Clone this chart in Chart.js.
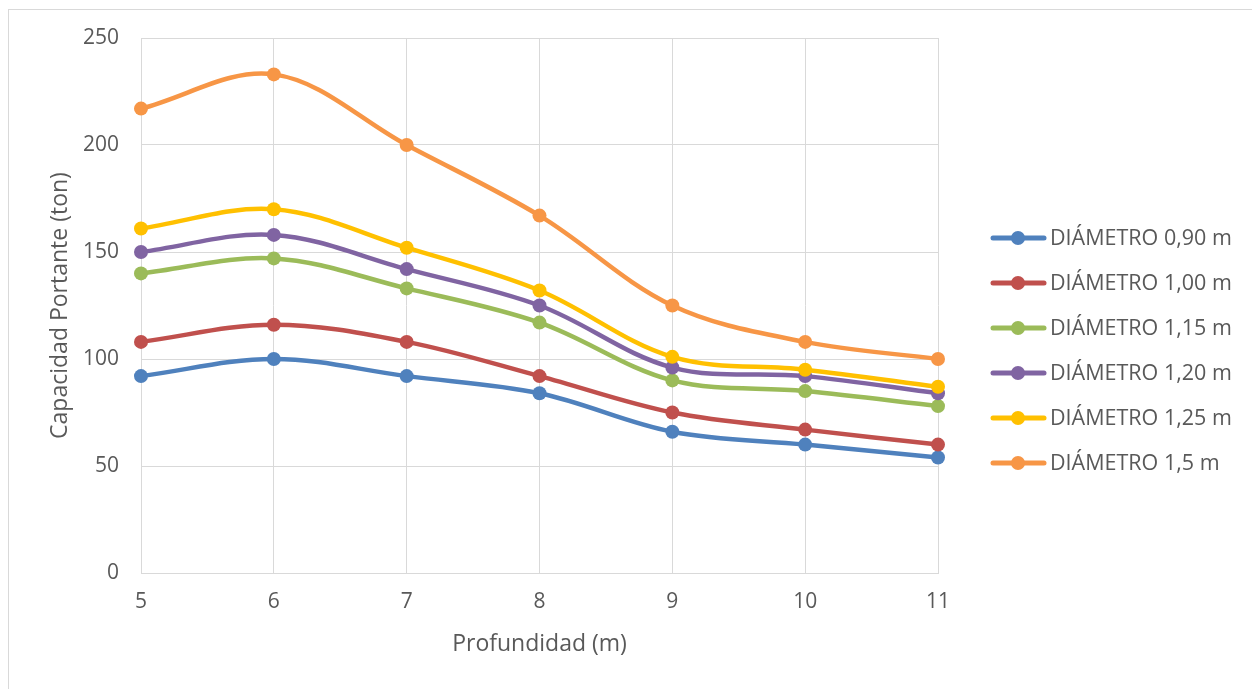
<!DOCTYPE html>
<html>
<head>
<meta charset="utf-8">
<script src="https://cdn.jsdelivr.net/npm/chart.js@4.4.1/dist/chart.umd.min.js"></script>
<style>
  html, body { margin: 0; padding: 0; background: #fff; overflow: hidden; }
  #frame { position: absolute; left: 8px; top: 9px; width: 1400px; height: 900px; border: 1px solid #d9d9d9; }
  #chart { position: absolute; left: 0; top: 0; }
</style>
</head>
<body>
<div id="frame"></div>
<canvas id="chart" width="1252" height="689"></canvas>
<script>
// --- datos ---
const profundidad = [5, 6, 7, 8, 9, 10, 11];
const seriesNames = ['DIÁMETRO 0,90 m', 'DIÁMETRO 1,00 m', 'DIÁMETRO 1,15 m', 'DIÁMETRO 1,20 m', 'DIÁMETRO 1,25 m', 'DIÁMETRO 1,5 m'];
const d090 = [92, 100, 92, 84, 66, 60, 54];
const d100 = [108, 116, 108, 92, 75, 67, 60];
const d115 = [140, 147, 133, 117, 90, 85, 78];
const d120 = [150, 158, 142, 125, 96, 92, 84];
const d125 = [161, 170, 152, 132, 101, 95, 87];
const d150 = [217, 233, 200, 167, 125, 108, 100];
const yTicks = [0, 50, 100, 150, 200, 250];
const colors = ['#4F81BD', '#C0504D', '#9BBB59', '#8064A2', '#FFC000', '#F79646'];

const allSeries = [d090, d100, d115, d120, d125, d150];
const FONT = "'Open Sans', sans-serif";
const TXT = '#595959';
const GRID = '#d9d9d9';

const datasets = allSeries.map((vals, i) => ({
  label: seriesNames[i],
  data: vals.map((v, j) => ({ x: profundidad[j], y: v })),
  borderColor: colors[i],
  backgroundColor: colors[i],
  pointBackgroundColor: colors[i],
  pointBorderWidth: 0,
  pointRadius: 7,
  borderWidth: 4.5,
  tension: 0.35,
  clip: false,
  order: allSeries.length - i
}));

// leyenda a la derecha (línea + marcador)
const sideLegend = {
  id: 'sideLegend',
  afterDraw(chart) {
    const ctx = chart.ctx;
    const y0 = 238, step = 45;
    ctx.save();
    seriesNames.forEach((name, i) => {
      const y = y0 + i * step;
      ctx.strokeStyle = colors[i];
      ctx.lineWidth = 5;
      ctx.lineCap = 'round';
      ctx.beginPath();
      ctx.moveTo(993, y);
      ctx.lineTo(1044, y);
      ctx.stroke();
      ctx.fillStyle = colors[i];
      ctx.beginPath();
      ctx.arc(1018, y, 7, 0, Math.PI * 2);
      ctx.fill();
      ctx.fillStyle = TXT;
      ctx.font = '21.5px ' + FONT;
      ctx.textBaseline = 'middle';
      ctx.textAlign = 'left';
      ctx.fillText(name, 1050, y + 1);
    });
    ctx.restore();
  }
};

new Chart(document.getElementById('chart'), {
  type: 'line',
  data: { datasets },
  plugins: [sideLegend],
  options: {
    responsive: false,
    animation: false,
    layout: { padding: { left: 0, right: 314, top: 38, bottom: 0 } },
    plugins: { legend: { display: false }, tooltip: { enabled: false } },
    scales: {
      x: {
        type: 'linear',
        min: 5, max: 11,
        afterFit: s => { s.height = 116; },
        afterBuildTicks: s => { s.ticks = profundidad.map(v => ({ value: v })); },
        grid: { color: GRID, drawTicks: false },
        border: { color: GRID },
        ticks: { color: TXT, font: { family: FONT, size: 21 }, padding: 16 },
        title: { display: true, text: 'Profundidad (m)', color: TXT, font: { family: FONT, size: 23 }, padding: { top: 0, bottom: 31 } }
      },
      y: {
        min: 0, max: 250,
        afterFit: s => { s.width = 141; },
        afterBuildTicks: s => { s.ticks = yTicks.map(v => ({ value: v })); },
        grid: { color: GRID, drawTicks: false },
        border: { color: GRID },
        ticks: { color: TXT, font: { family: FONT, size: 21 }, padding: 22 },
        title: { display: true, text: 'Capacidad Portante (ton)', color: TXT, font: { family: FONT, size: 23 }, padding: { top: 47, bottom: 0 } }
      }
    }
  }
});
</script>
</body>
</html>
